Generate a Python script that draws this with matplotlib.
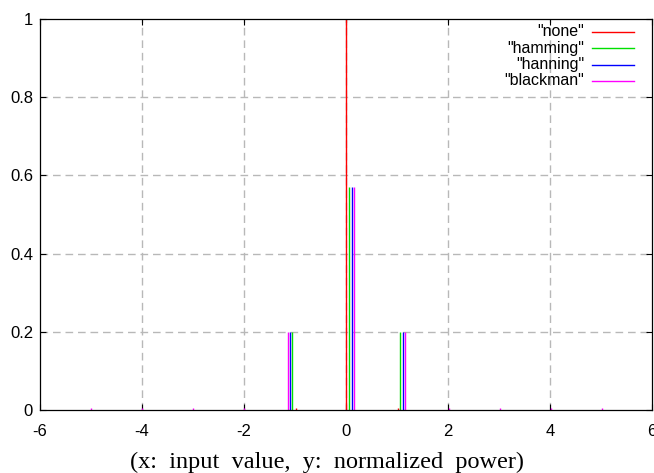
import matplotlib
matplotlib.use("Agg")
import matplotlib.pyplot as plt
from matplotlib.lines import Line2D

# Window spectra drawn as impulses (x position, normalized power)
none_x = [-0.98, 0.0, 1.01]
none_y = [0.004, 1.0, 0.004]

hamming_x = [-1.05, 0.05, 1.06]
hamming_y = [0.2, 0.57, 0.2]

hanning_x = [-1.10, 0.12, 1.11]
hanning_y = [0.2, 0.57, 0.2]

blackman_x = [-5.0, -4.0, -3.0, -2.0, -1.14, 0.15, 1.15, 2.02, 3.02, 4.01, 5.02]
blackman_y = [0.004, 0.004, 0.004, 0.004, 0.2, 0.57, 0.2, 0.004, 0.004, 0.004, 0.004]

labels = ['"none"', '"hamming"', '"hanning"', '"blackman"']
colors = ["#ff0000", "#00e000", "#0000ff", "#ff00ff"]
data = [(none_x, none_y), (hamming_x, hamming_y),
        (hanning_x, hanning_y), (blackman_x, blackman_y)]

xticks = [-6, -4, -2, 0, 2, 4, 6]
yticks = [0, 0.2, 0.4, 0.6, 0.8, 1]
ytick_labels = ["0", "0.2", "0.4", "0.6", "0.8", "1"]

W, H = 654, 473
L, R, T, B = 40, 652, 19, 410

fig = plt.figure(figsize=(W / 100, H / 100), dpi=100)
ax = fig.add_axes([L / W, 1 - B / H, (R - L) / W, (B - T) / H])

ax.set_xlim(-6, 6)
ax.set_ylim(0, 1)

# dashed grid
grid_kw = dict(color="#b8b8b8", lw=1.0, ls=(0, (5.5, 3.5)), zorder=0)
for gx in xticks[1:-1]:
    ax.axvline(gx, **grid_kw)
for gy in yticks[1:-1]:
    ax.axhline(gy, **grid_kw)

for (xs, ys), col in zip(data, colors):
    ax.vlines(xs, 0, ys, colors=col, lw=1.0, zorder=2)

ax.set_xticks(xticks)
ax.set_xticklabels([str(t) for t in xticks])
ax.set_yticks(yticks)
ax.set_yticklabels(ytick_labels)
ax.tick_params(direction="in", length=4, width=0.8, top=True, right=True,
               labelsize=12)
ax.tick_params(axis="x", pad=10)
ax.tick_params(axis="y", pad=5)
for lab in ax.get_xticklabels() + ax.get_yticklabels():
    lab.set_fontfamily("Liberation Sans")

for sp in ax.spines.values():
    sp.set_linewidth(0.9)
    sp.set_color("black")

# x label centred on the canvas
fig.text(0.5, 1 - 462 / H, "(x:  input  value,  y:  normalized  power)",
         family="Liberation Serif", fontsize=17.5, ha="center", va="center")

# key in the upper right: right-aligned names with line samples
pw = R - L
ph = B - T
for i, (lab, col) in enumerate(zip(labels, colors)):
    yc = (B - (32 + 16.3 * i)) / ph
    ax.text((584 - L) / pw, yc, lab, transform=ax.transAxes, ha="right",
            va="center", family="Liberation Sans", fontsize=11.5)
    ax.add_line(Line2D([(592 - L) / pw, (634 - L) / pw], [yc, yc],
                       transform=ax.transAxes, color=col, lw=1.0))

fig.savefig("out.png", dpi=100)
